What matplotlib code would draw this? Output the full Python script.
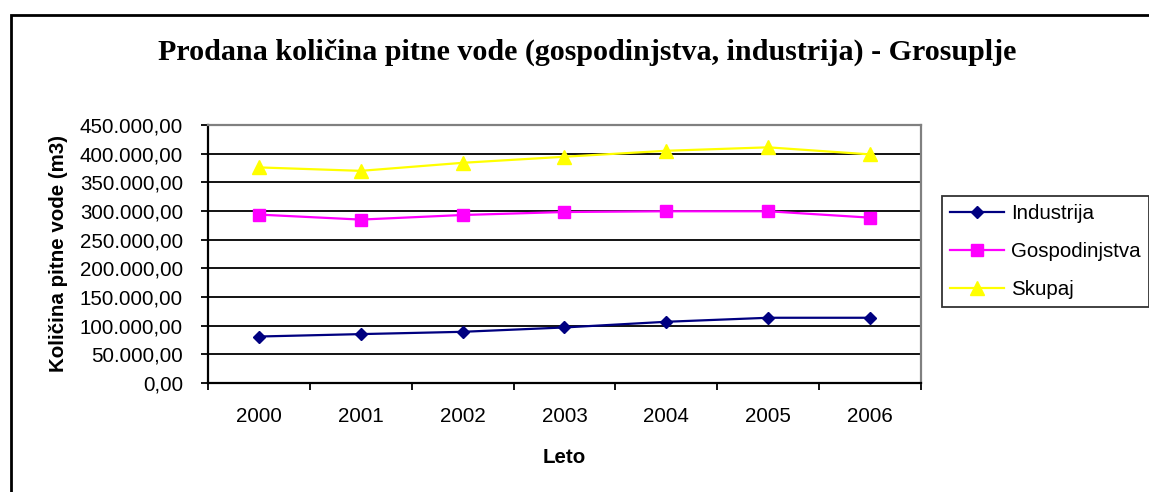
import matplotlib.pyplot as plt
from matplotlib.patches import Rectangle
from matplotlib.ticker import FuncFormatter, FixedLocator, NullFormatter

# Annual sold drinking water, m3
leta = ['2000', '2001', '2002', '2003', '2004', '2005', '2006']
industrija = [81100, 85300, 89300, 96900, 106800, 113800, 113800]
gospodinjstva = [293700, 285000, 293000, 298200, 299500, 299500, 288400]
skupaj = [376000, 370000, 384000, 394600, 405000, 411000, 398700]

plt.rcParams['font.family'] = ['Liberation Sans', 'DejaVu Sans']
fs = 14.8

fig = plt.figure(figsize=(11.49, 4.92), dpi=100)
ax = fig.add_axes([0.181, 0.2215, 0.6205, 0.5245])

x = range(len(leta))
ax.plot(x, industrija, color='#000080', lw=1.6, marker='D', ms=6.5,
        label='Industrija', zorder=3)
ax.plot(x, gospodinjstva, color='#FF00FF', lw=1.6, marker='s', ms=8,
        label='Gospodinjstva', zorder=3)
ax.plot(x, skupaj, color='#FFFF00', lw=1.6, marker='^', ms=9.5,
        label='Skupaj', zorder=3)

ax.set_xlim(-0.5, len(leta) - 0.5)
ax.set_ylim(0, 450000)
ax.set_yticks(range(0, 450001, 50000))
ax.yaxis.set_major_formatter(FuncFormatter(
    lambda v, p: f'{v:,.2f}'.replace(',', ' ').replace('.', ',').replace(' ', '.')))
ax.grid(axis='y', color='black', lw=1.3)
ax.set_axisbelow(True)

# category labels centred, tick marks between categories
ax.set_xticks(list(x))
ax.set_xticklabels(leta)
ax.xaxis.set_minor_locator(FixedLocator([i - 0.5 for i in range(len(leta) + 1)]))
ax.xaxis.set_minor_formatter(NullFormatter())
ax.tick_params(axis='x', which='major', length=0, pad=17, labelsize=fs)
ax.tick_params(axis='x', which='minor', length=5, width=1.3, color='black')
ax.tick_params(axis='y', length=5, width=1.3, pad=13, labelsize=fs)

for s in ['left', 'bottom']:
    ax.spines[s].set_color('black')
    ax.spines[s].set_linewidth(1.6)
for s in ['top', 'right']:
    ax.spines[s].set_color('#808080')
    ax.spines[s].set_linewidth(1.6)

ax.set_ylabel('Količina pitne vode (m3)', fontsize=fs, fontweight='bold')
ax.yaxis.set_label_coords(-0.197, 0.5)
ax.set_xlabel('Leto', fontsize=fs, fontweight='bold')
ax.xaxis.set_label_coords(0.5, -0.25)

fig.text(0.511, 0.894, 'Prodana količina pitne vode (gospodinjstva, industrija) - Grosuplje',
         ha='center', va='center', fontsize=21.6, fontweight='bold',
         family=['Liberation Serif', 'DejaVu Serif'])

leg = fig.legend(loc='upper left', bbox_to_anchor=(0.8198, 0.6016),
                 fontsize=fs, frameon=True, fancybox=False, edgecolor='black',
                 borderpad=0.4, handlelength=2.6, handletextpad=0.35,
                 labelspacing=0.92, borderaxespad=0)
leg.get_frame().set_linewidth(1.3)

# outer chart frame
fig.patches.append(Rectangle((0.0095, -0.1), 1.2, 0.1 + 0.9705, transform=fig.transFigure,
                             fill=False, edgecolor='black', lw=2))

fig.savefig('out.png', dpi=100)
